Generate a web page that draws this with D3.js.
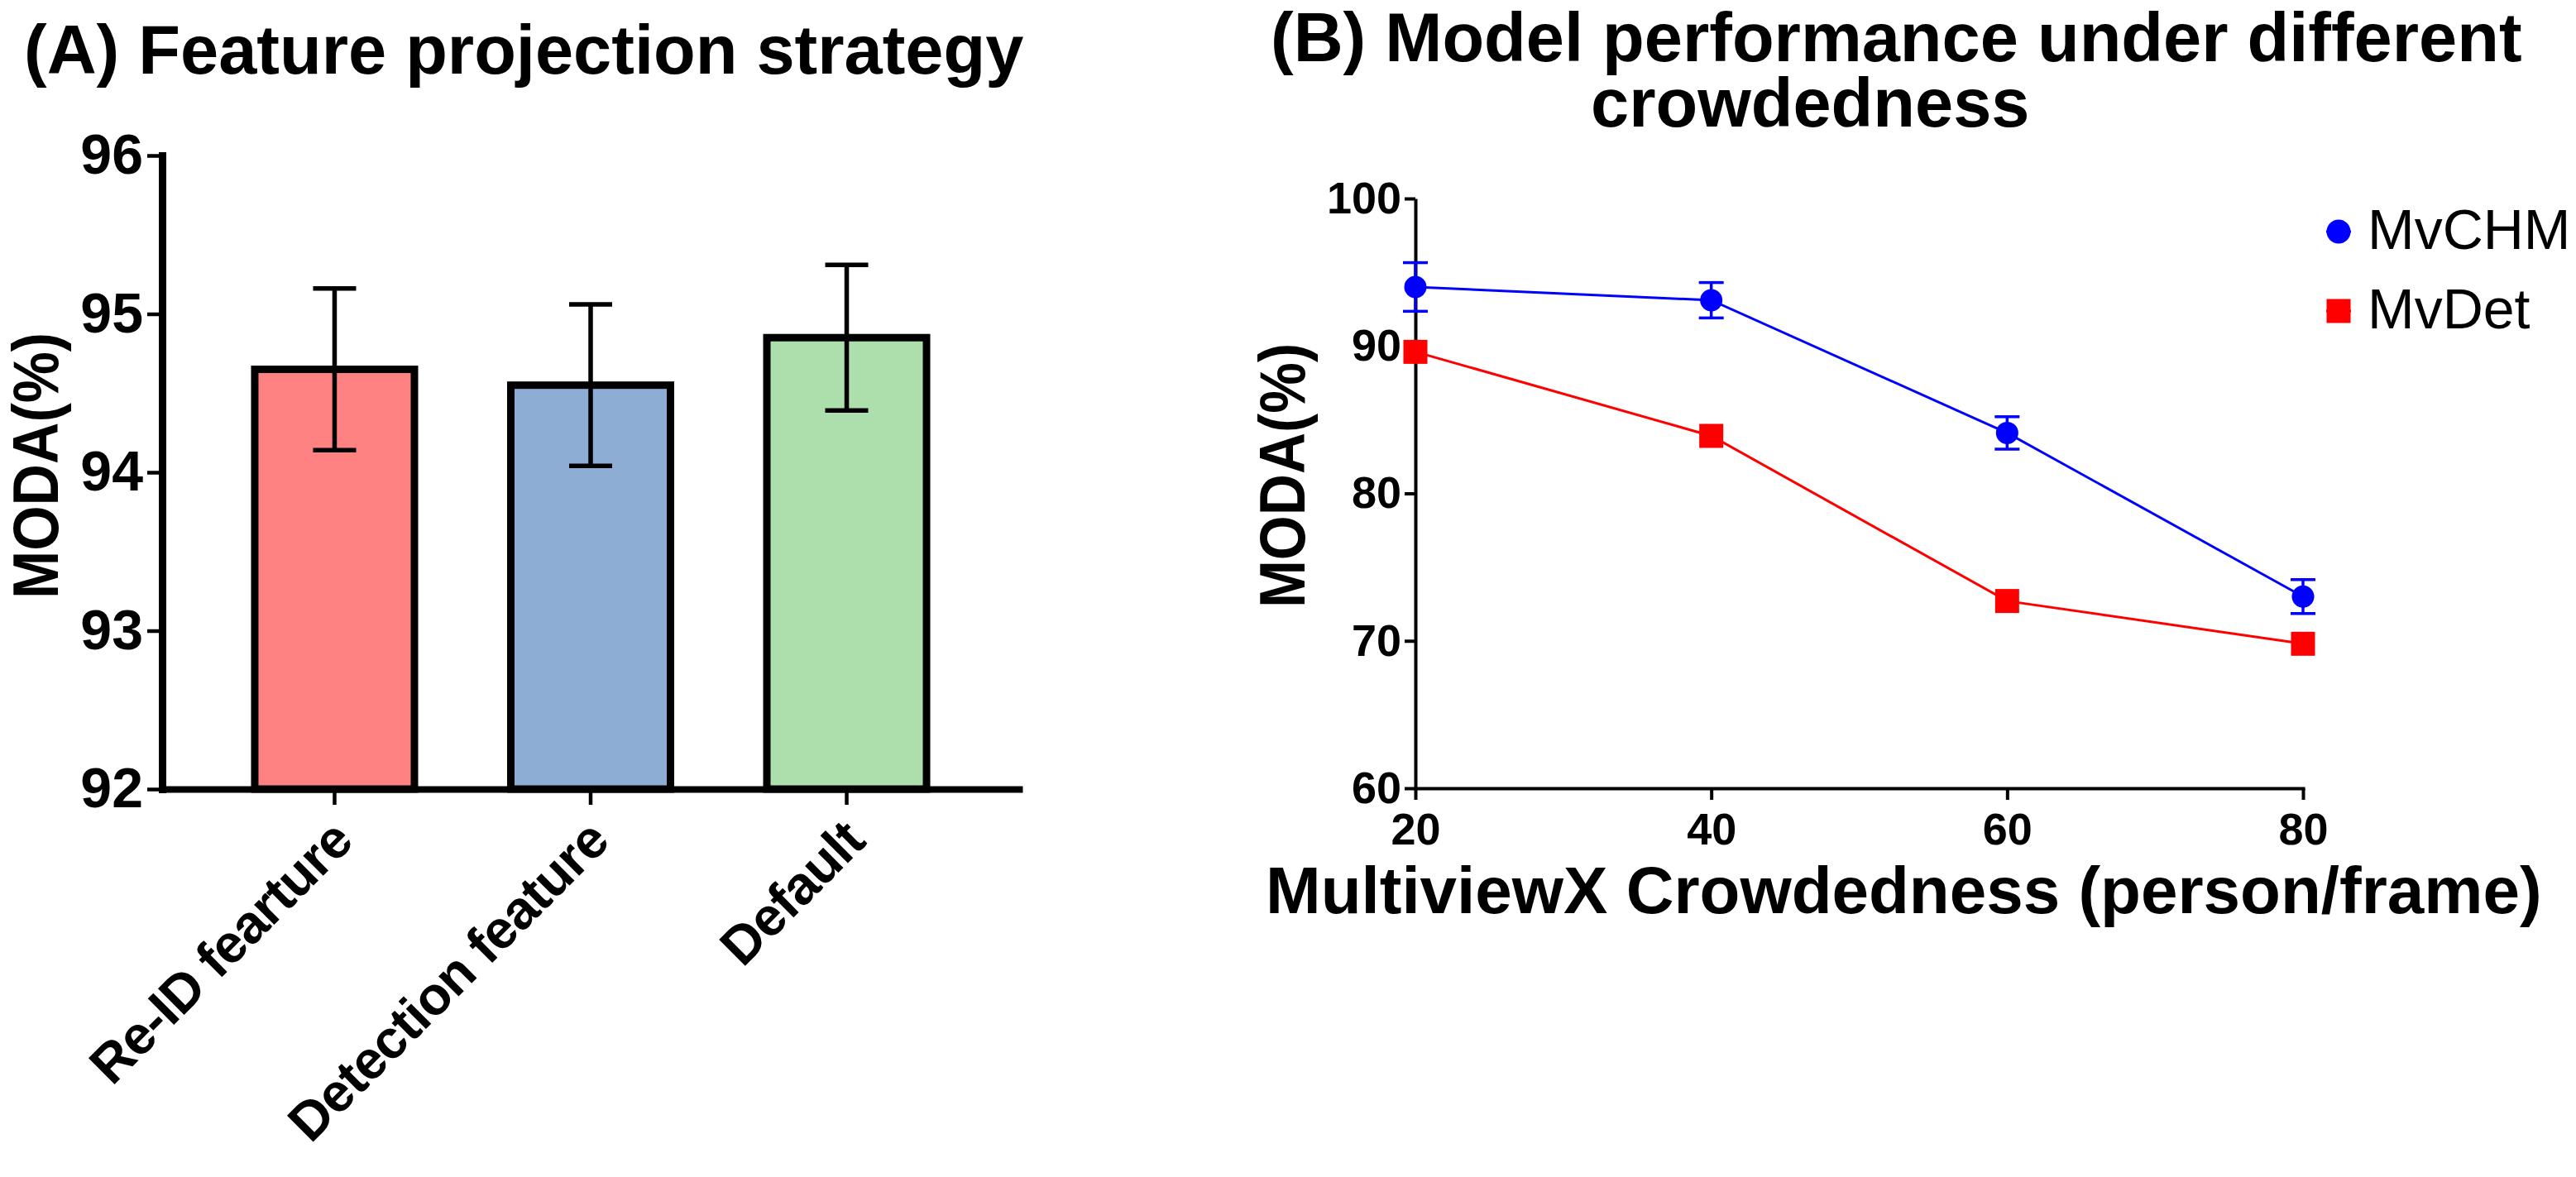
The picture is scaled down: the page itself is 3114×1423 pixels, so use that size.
<!DOCTYPE html>
<html>
<head>
<meta charset="utf-8">
<script src="https://cdn.jsdelivr.net/npm/d3@7"></script>
<style>
  body { margin: 0; background: #fff; }
  svg { display: block; font-family: "Liberation Sans", Arial, sans-serif; }
</style>
</head>
<body>
<svg width="3114" height="1423"></svg>
<script>
// panel A data
const categories = ["Re-ID fearture", "Detection feature", "Default"];
const barMeans = [94.65, 94.55, 94.85];
const barErrors = [0.51, 0.51, 0.46];
const barColors = ["#ff8282", "#8dadd4", "#addfad"];
const yTicksA = [92, 93, 94, 95, 96];

// panel B data
const crowd = [20, 40, 60, 80];
const mvchm = [94.0, 93.1, 84.1, 73.0];
const mvchmErr = [1.65, 1.2, 1.1, 1.15];
const mvdet = [89.6, 83.9, 72.7, 69.8];
const yTicksB = [60, 70, 80, 90, 100];
const seriesNames = ["MvCHM", "MvDet"];

const svg = d3.select("svg");
const fmt = d3.format("d");

// ---------- (A) bar chart ----------
const xA = d3.scaleBand().domain(categories).range([196, 1232])
  .paddingInner(0.3764).paddingOuter(0.3617);
const yA = d3.scaleLinear().domain([92, 96]).range([954, 188]);

svg.append("text")
  .attr("x", 29).attr("y", 89)
  .attr("font-size", 83).attr("font-weight", "bold")
  .text("(A) Feature projection strategy");

const bars = barMeans.map((v, i) => ({ cat: categories[i], v, e: barErrors[i], c: barColors[i] }));

svg.append("g").selectAll("rect")
  .data(bars)
  .enter()
  .append("rect")
  .attr("x", d => xA(d.cat))
  .attr("y", d => yA(d.v))
  .attr("width", xA.bandwidth())
  .attr("height", d => yA(92) - yA(d.v))
  .attr("fill", d => d.c)
  .attr("stroke", "#000")
  .attr("stroke-width", 9);

let errA = svg.append("g").selectAll("g")
  .data(bars)
  .enter()
  .append("g")
  .attr("stroke", "#000")
  .attr("stroke-width", 5.5);
errA.append("line")
  .attr("x1", d => xA(d.cat) + xA.bandwidth() / 2)
  .attr("x2", d => xA(d.cat) + xA.bandwidth() / 2)
  .attr("y1", d => yA(d.v - d.e))
  .attr("y2", d => yA(d.v + d.e));
[-1, 1].forEach(s => {
  errA.append("line")
    .attr("x1", d => xA(d.cat) + xA.bandwidth() / 2 - 26)
    .attr("x2", d => xA(d.cat) + xA.bandwidth() / 2 + 26)
    .attr("y1", d => yA(d.v + s * d.e))
    .attr("y2", d => yA(d.v + s * d.e));
});

const axYA = svg.append("g")
  .attr("transform", "translate(196,0)")
  .call(d3.axisLeft(yA).tickValues(yTicksA).tickFormat(fmt)
    .tickSize(18).tickPadding(5).tickSizeOuter(0));
axYA.select(".domain").attr("stroke-width", 9).attr("stroke-linecap", "square");
axYA.selectAll(".tick line").attr("stroke-width", 4.5);
axYA.selectAll(".tick text")
  .attr("font-size", 68).attr("font-weight", "bold")
  .attr("font-family", "Liberation Sans, Arial, sans-serif").attr("fill", "#000");

const axXA = svg.append("g")
  .attr("transform", "translate(0,954)")
  .call(d3.axisBottom(xA).tickSize(19).tickSizeOuter(0));
axXA.select(".domain").attr("stroke-width", 8).attr("stroke-linecap", "square");
axXA.selectAll(".tick line").attr("stroke-width", 4.5);
axXA.selectAll(".tick text")
  .attr("font-size", 65).attr("font-weight", "bold")
  .attr("font-family", "Liberation Sans, Arial, sans-serif").attr("fill", "#000")
  .attr("letter-spacing", -1)
  .attr("text-anchor", "end")
  .attr("x", 0).attr("y", 0).attr("dy", 0)
  .attr("transform", "translate(25,66) rotate(-45)");

svg.append("text")
  .attr("transform", "translate(70,563) rotate(-90)")
  .attr("text-anchor", "middle")
  .attr("font-size", 78).attr("font-weight", "bold")
  .attr("textLength", 322).attr("lengthAdjust", "spacingAndGlyphs")
  .text("MODA(%)");

// ---------- (B) line chart ----------
const xB = d3.scaleLinear().domain([20, 80]).range([1711, 2784]);
const yB = d3.scaleLinear().domain([60, 100]).range([953, 240]);

svg.append("text")
  .attr("x", 1536).attr("y", 74)
  .attr("font-size", 83).attr("font-weight", "bold")
  .text("(B) Model performance under different");
svg.append("text")
  .attr("x", 1923).attr("y", 153)
  .attr("font-size", 83).attr("font-weight", "bold")
  .text("crowdedness");

const axYB = svg.append("g")
  .attr("transform", "translate(1711,0)")
  .call(d3.axisLeft(yB).tickValues(yTicksB).tickFormat(fmt)
    .tickSize(13).tickPadding(4).tickSizeOuter(0));
axYB.select(".domain").attr("stroke-width", 4);
axYB.selectAll(".tick line").attr("stroke-width", 4);
axYB.selectAll(".tick text")
  .attr("font-size", 54).attr("font-weight", "bold")
  .attr("font-family", "Liberation Sans, Arial, sans-serif").attr("fill", "#000");

const axXB = svg.append("g")
  .attr("transform", "translate(0,953)")
  .call(d3.axisBottom(xB).tickValues(crowd).tickFormat(fmt)
    .tickSize(14).tickPadding(16).tickSizeOuter(0));
axXB.select(".domain").attr("stroke-width", 4).attr("stroke-linecap", "square");
axXB.selectAll(".tick line").attr("stroke-width", 4);
axXB.selectAll(".tick text")
  .attr("font-size", 54).attr("font-weight", "bold")
  .attr("font-family", "Liberation Sans, Arial, sans-serif").attr("fill", "#000");

svg.append("text")
  .attr("x", 1530).attr("y", 1104)
  .attr("font-size", 80).attr("font-weight", "bold")
  .text("MultiviewX Crowdedness (person/frame)");

svg.append("text")
  .attr("transform", "translate(1577,575) rotate(-90)")
  .attr("text-anchor", "middle")
  .attr("font-size", 78).attr("font-weight", "bold")
  .attr("textLength", 320).attr("lengthAdjust", "spacingAndGlyphs")
  .text("MODA(%)");

const line = d3.line().x((d, i) => xB(crowd[i])).y(d => yB(d));

svg.append("path").datum(mvdet)
  .attr("d", line).attr("fill", "none")
  .attr("stroke", "#ff0000").attr("stroke-width", 3);
svg.append("path").datum(mvchm)
  .attr("d", line).attr("fill", "none")
  .attr("stroke", "#0000ff").attr("stroke-width", 3);

// MvCHM error bars
let errB = svg.append("g").attr("stroke", "#0000ff").attr("stroke-width", 3.5)
  .selectAll("g").data(mvchm).enter().append("g");
errB.append("line")
  .attr("x1", (d, i) => xB(crowd[i])).attr("x2", (d, i) => xB(crowd[i]))
  .attr("y1", (d, i) => yB(d - mvchmErr[i])).attr("y2", (d, i) => yB(d + mvchmErr[i]));
[-1, 1].forEach(s => {
  errB.append("line")
    .attr("x1", (d, i) => xB(crowd[i]) - 15).attr("x2", (d, i) => xB(crowd[i]) + 15)
    .attr("y1", (d, i) => yB(d + s * mvchmErr[i])).attr("y2", (d, i) => yB(d + s * mvchmErr[i]));
});

svg.append("g").selectAll("circle")
  .data(mvchm).enter().append("circle")
  .attr("cx", (d, i) => xB(crowd[i])).attr("cy", d => yB(d))
  .attr("r", 13.5).attr("fill", "#0000ff");

svg.append("g").selectAll("rect")
  .data(mvdet).enter().append("rect")
  .attr("x", (d, i) => xB(crowd[i]) - 14.5).attr("y", d => yB(d) - 14.5)
  .attr("width", 29).attr("height", 29).attr("fill", "#ff0000");

// legend
const legend = svg.append("g").attr("transform", "translate(2827,0)");
legend.append("line").attr("x1", -15).attr("x2", 15).attr("y1", 280).attr("y2", 280)
  .attr("stroke", "#0000ff").attr("stroke-width", 3);
legend.append("circle").attr("cx", 0).attr("cy", 280).attr("r", 14.5).attr("fill", "#0000ff");
legend.append("line").attr("x1", -15).attr("x2", 15).attr("y1", 376).attr("y2", 376)
  .attr("stroke", "#ff0000").attr("stroke-width", 3);
legend.append("rect").attr("x", -14.5).attr("y", 361.5).attr("width", 29).attr("height", 29)
  .attr("fill", "#ff0000");
legend.selectAll("text")
  .data(seriesNames).enter().append("text")
  .attr("x", 35).attr("y", (d, i) => 301 + i * 96)
  .attr("font-size", 68)
  .text(d => d);
</script>
</body>
</html>
